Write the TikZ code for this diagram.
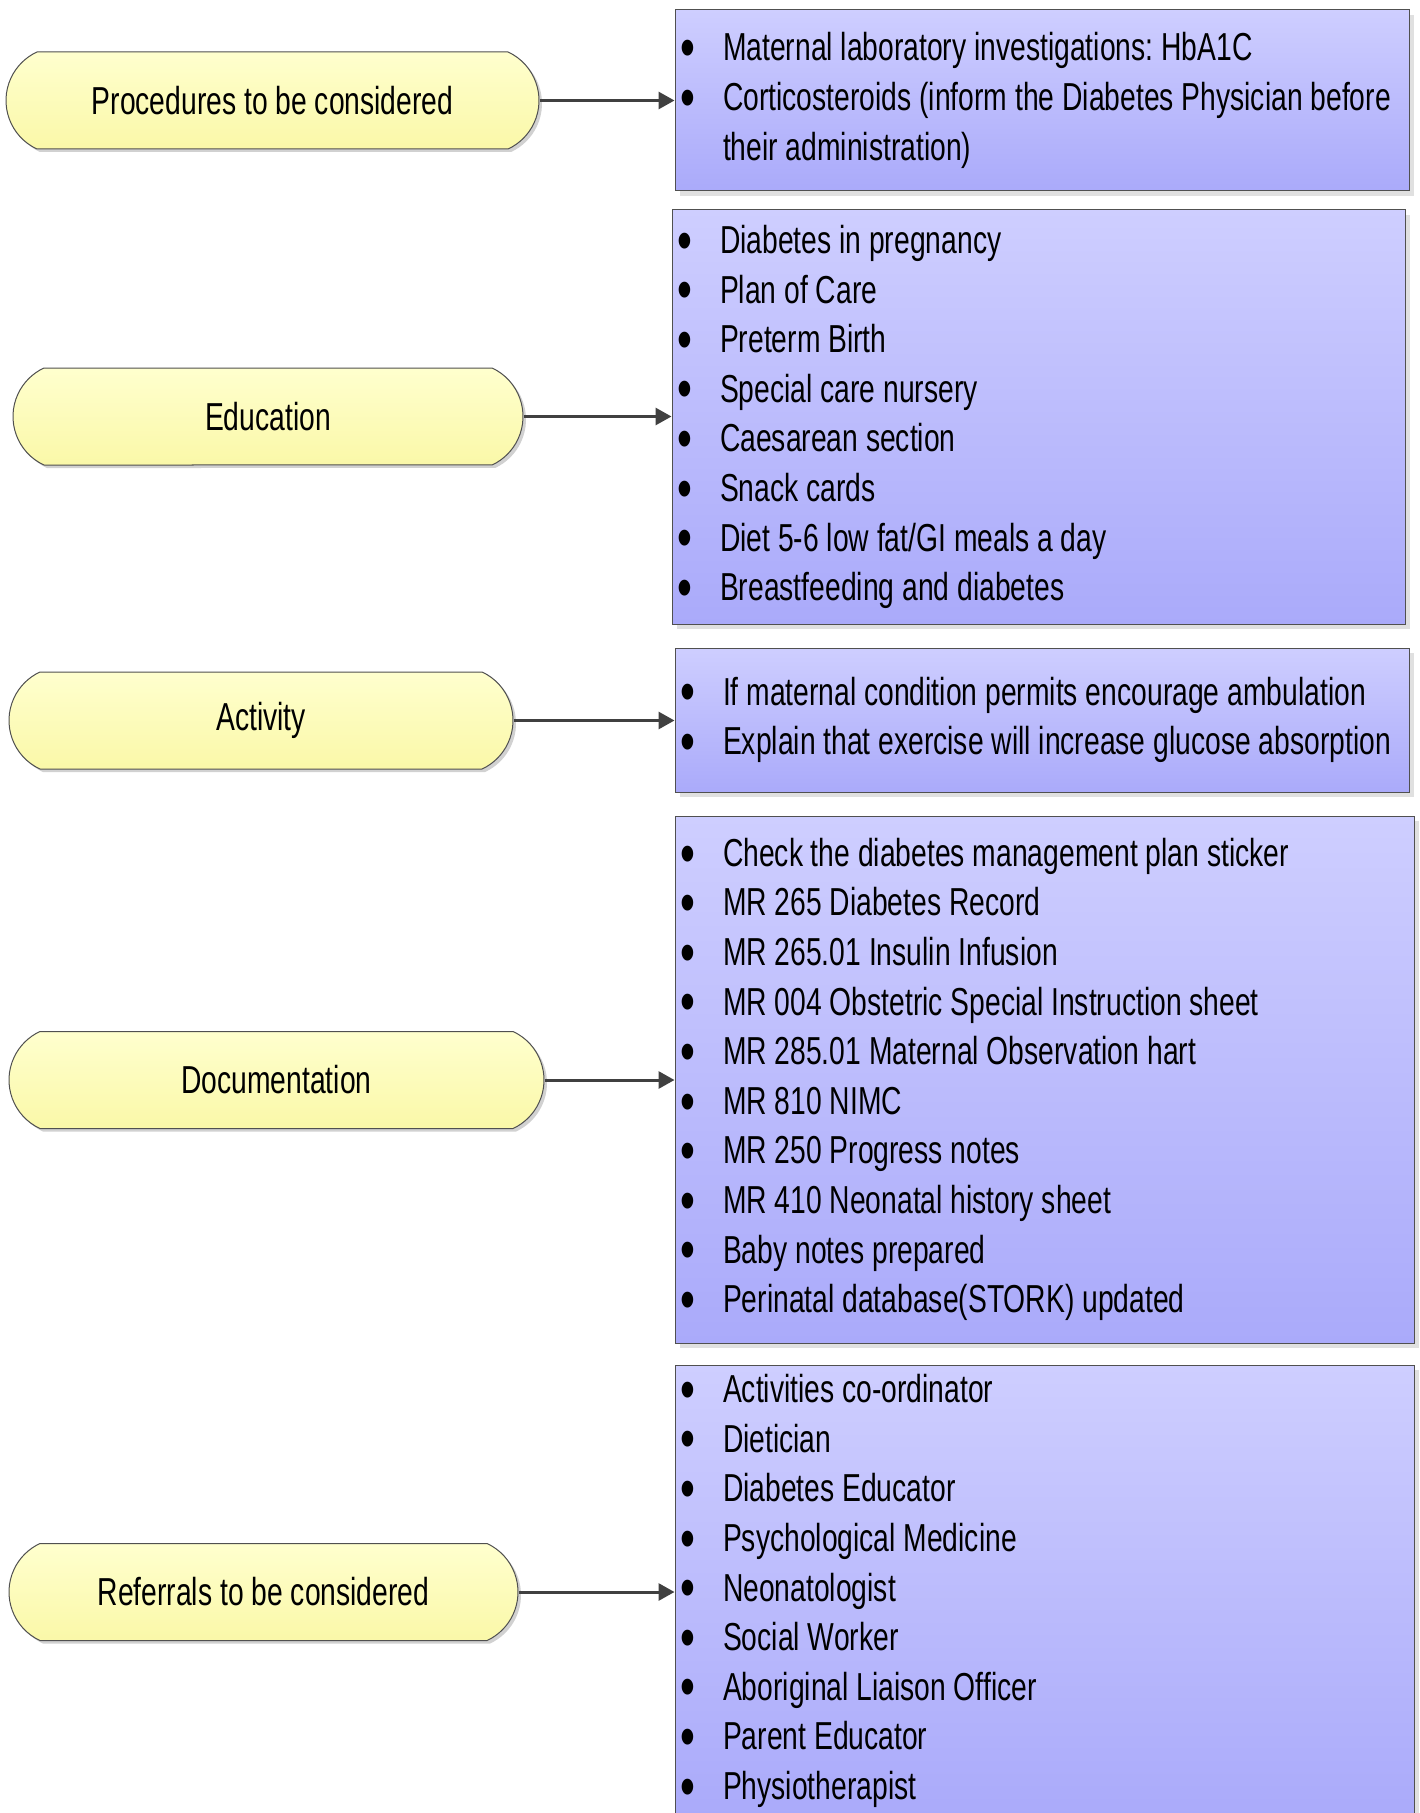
\documentclass[tikz,border=0pt]{standalone}
\usepackage{fontspec}
\setmainfont{Liberation Sans}[FakeStretch=0.725]
\usetikzlibrary{shapes.misc,shadows,arrows.meta}
\definecolor{pilltop}{RGB}{255,255,206}
\definecolor{pillbot}{RGB}{250,248,168}
\definecolor{boxtop}{RGB}{206,206,255}
\definecolor{boxbot}{RGB}{170,170,250}
\definecolor{edge}{RGB}{80,80,80}
\definecolor{arrowc}{RGB}{64,64,64}
\newcommand\bigbul{\raisebox{-0.17em}{\scalebox{1.5}{\textbullet}}}
\newcommand\bl[1]{\mbox{\spaceskip=0pt\xspaceskip=0pt\frenchspacing\makebox[21.5pt][l]{\bigbul}#1}}
\newcommand\ind[1]{\mbox{\spaceskip=0pt\xspaceskip=0pt\frenchspacing\hspace*{21.5pt}#1}}
\tikzset{
  pill/.style={rounded rectangle, rounded rectangle arc length=130, draw=edge, line width=0.5pt,
    top color=pilltop, bottom color=pillbot, minimum height=48.5pt, inner sep=0pt,
    font=\fontsize{19.5pt}{24.8pt}\selectfont,
    drop shadow={shadow xshift=1.5pt, shadow yshift=-1.5pt, fill=black!18, opacity=1}},
  listbox/.style={rectangle, draw=edge, line width=0.5pt, top color=boxtop, bottom color=boxbot,
    inner xsep=2.5pt, inner ysep=0pt, align=left,
    font=\fontsize{19.5pt}{24.8pt}\selectfont,
    drop shadow={shadow xshift=2.5pt, shadow yshift=-2.5pt, fill=black!12, opacity=1}},
  link/.style={draw=arrowc, line width=1.5pt, -{Triangle[length=8pt,width=8.5pt]}}
}
\begin{document}
\begin{tikzpicture}[x=0.5pt,y=-0.5pt]
\path[use as bounding box, clip] (0,0) rectangle (1419,1813);
\fill[white] (0,0) rectangle (1419,1813);

% left pills
\node[pill, minimum width=266.5pt] (p1) at (272.5,100.5) {Procedures to be considered};
\node[pill, minimum width=255pt] (p2) at (268,416.5) {Education};
\node[pill, minimum width=252pt] (p3) at (261,720.5) {Activity};
\node[pill, minimum width=267.5pt] (p4) at (276.5,1080) {Documentation};
\node[pill, minimum width=254.5pt] (p5) at (263.5,1592) {Referrals to be considered};

% right boxes
\node[listbox, minimum width=367pt, minimum height=90.5pt, text width=362pt] (b1) at (1042,100.5) {%
\bl{Maternal laboratory investigations: HbA1C}\\
\bl{Corticosteroids (inform the Diabetes Physician before}\\
\ind{their administration)}};

\node[listbox, minimum width=366.5pt, minimum height=207pt, text width=361.5pt] (b2) at (1038.5,417) {%
\bl{Diabetes in pregnancy}\\
\bl{Plan of Care}\\
\bl{Preterm Birth}\\
\bl{Special care nursery}\\
\bl{Caesarean section}\\
\bl{Snack cards}\\
\bl{Diet 5-6 low fat/GI meals a day}\\
\bl{Breastfeeding and diabetes}};

\node[listbox, minimum width=367pt, minimum height=72pt, text width=362pt] (b3) at (1042,720) {%
\bl{If maternal condition permits encourage ambulation}\\
\bl{Explain that exercise will increase glucose absorption}};

\node[listbox, minimum width=369.5pt, minimum height=263.5pt, text width=364.5pt] (b4) at (1044.5,1079.5) {%
\bl{Check the diabetes management plan sticker}\\
\bl{MR 265 Diabetes Record}\\
\bl{MR 265.01 Insulin Infusion}\\
\bl{MR 004 Obstetric Special Instruction sheet}\\
\bl{MR 285.01 Maternal Observation hart}\\
\bl{MR 810 NIMC}\\
\bl{MR 250 Progress notes}\\
\bl{MR 410 Neonatal history sheet}\\
\bl{Baby notes prepared}\\
\bl{Perinatal database(STORK) updated}};

\node[listbox, minimum width=369.5pt, minimum height=226pt, text width=364.5pt] (b5) at (1044.5,1591) {%
\bl{Activities co-ordinator}\\
\bl{Dietician}\\
\bl{Diabetes Educator}\\
\bl{Psychological Medicine}\\
\bl{Neonatologist}\\
\bl{Social Worker}\\
\bl{Aboriginal Liaison Officer}\\
\bl{Parent Educator}\\
\bl{Physiotherapist}};

% connectors
\draw[link] (p1.east) -- (p1.east -| b1.west);
\draw[link] (p2.east) -- (p2.east -| b2.west);
\draw[link] (p3.east) -- (p3.east -| b3.west);
\draw[link] (p4.east) -- (p4.east -| b4.west);
\draw[link] (p5.east) -- (p5.east -| b5.west);
\end{tikzpicture}
\end{document}
